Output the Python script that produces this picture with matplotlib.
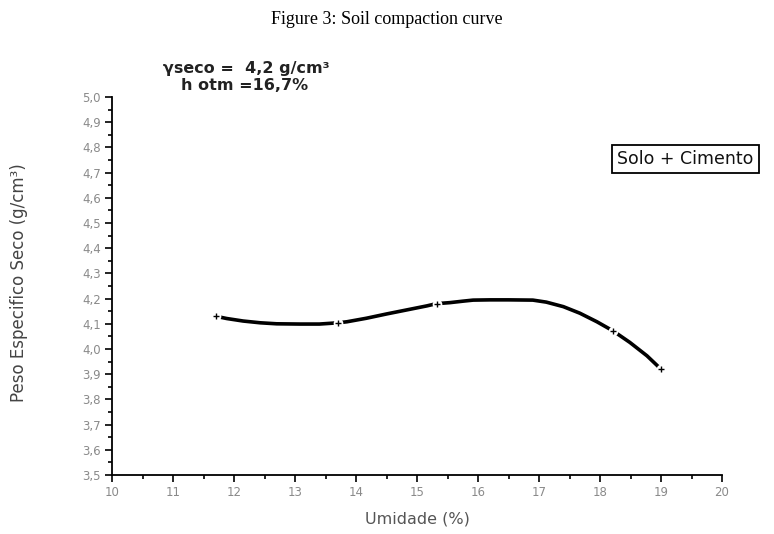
import matplotlib
matplotlib.use("Agg")
import matplotlib.pyplot as plt
from matplotlib.ticker import MultipleLocator, FuncFormatter

# Data
curve_x = [11.70, 11.88, 12.15, 12.43, 12.70, 13.08, 13.40, 13.71, 13.85, 14.17, 14.50,
           14.83, 15.16, 15.32, 15.54, 15.76, 15.92, 16.20, 16.50, 16.90, 17.12, 17.40,
           17.67, 17.95, 18.22, 18.49, 18.77, 19.00]
curve_y = [4.130, 4.121, 4.111, 4.104, 4.100, 4.099, 4.099, 4.104, 4.108, 4.122, 4.139,
           4.155, 4.171, 4.180, 4.184, 4.190, 4.194, 4.195, 4.195, 4.194, 4.186, 4.168,
           4.142, 4.108, 4.071, 4.026, 3.973, 3.920]
marker_x = [11.70, 13.71, 15.32, 18.22, 19.00]
marker_y = [4.130, 4.104, 4.180, 4.071, 3.920]

title = "Figure 3: Soil compaction curve"
xlabel = "Umidade (%)"
ylabel = "Peso Especifico Seco (g/cm³)"
annot1 = "γseco =  4,2 g/cm³"
annot2 = "h otm =16,7%"
legend_label = "Solo + Cimento"

plt.rcParams['font.family'] = ['DejaVu Sans']

W, H = 774, 534
fig = plt.figure(figsize=(W/100, H/100), dpi=100)
ax = fig.add_axes([112/W, 1-475/H, (722-112)/W, (475-97)/H])

ax.plot(curve_x, curve_y, color='black', lw=2.6, solid_capstyle='butt', zorder=2)
ax.plot(marker_x, marker_y, ls='none', marker='o', ms=7, mfc='white', mec='none', zorder=3)
ax.plot(marker_x, marker_y, ls='none', marker='+', ms=4, mew=1.0, color='black', zorder=4)

ax.set_xlim(10, 20)
ax.set_ylim(3.5, 5.0)
ax.xaxis.set_major_locator(MultipleLocator(1))
ax.xaxis.set_minor_locator(MultipleLocator(0.5))
ax.yaxis.set_major_locator(MultipleLocator(0.1))
ax.yaxis.set_minor_locator(MultipleLocator(0.05))
ax.yaxis.set_major_formatter(FuncFormatter(lambda v, p: f"{v:.1f}".replace('.', ',')))
ax.xaxis.set_major_formatter(FuncFormatter(lambda v, p: f"{v:.0f}"))

for s in ['top', 'right']:
    ax.spines[s].set_visible(False)
for s in ['left', 'bottom']:
    ax.spines[s].set_linewidth(1.3)
    ax.spines[s].set_color('black')

ax.tick_params(which='major', direction='out', length=5, width=1.2, color='black',
               labelsize=8.5, labelcolor='#8a8a8a', pad=3)
ax.tick_params(which='minor', direction='out', length=3, width=1.2, color='black')

fig.text(417/W, 1-519/H, xlabel, ha='center', va='center', fontsize=11.5, color='#555555')
fig.text(19/W, 1-283/H, ylabel, ha='center', va='center', rotation=90,
         fontsize=12, color='#444444')

fig.text(0.5, 1-20/H, title, ha='center', va='center', fontsize=13,
         family=['Liberation Serif', 'DejaVu Serif'])
fig.text(246/W, 1-69/H, annot1, ha='center', va='center', fontsize=11.5,
         fontweight='bold', color='#222222')
fig.text(245/W, 1-86/H, annot2, ha='center', va='center', fontsize=11.5,
         fontweight='bold', color='#222222')
fig.text(617/W, 1-159/H, legend_label, ha='left', va='center', fontsize=12.5,
         color='#111111',
         bbox=dict(boxstyle='square,pad=0.3', fc='white', ec='black', lw=1.3))

fig.savefig("out.png", dpi=100)
